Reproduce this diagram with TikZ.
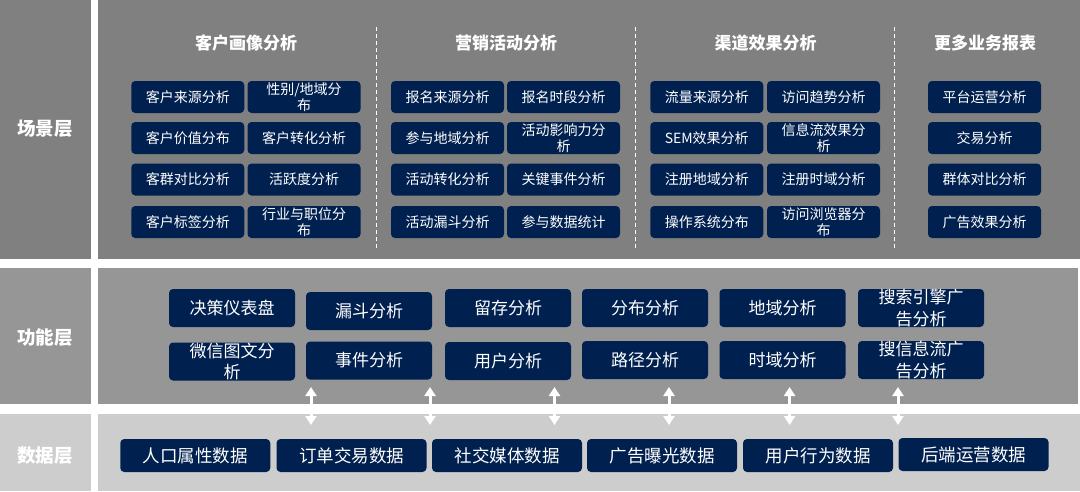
\documentclass[tikz,border=0pt]{standalone}
\usepackage{fontspec}
\setmainfont{Noto Sans CJK SC}
\usetikzlibrary{arrows.meta}
\definecolor{navy}{RGB}{0,33,80}
\definecolor{scenebg}{HTML}{808080}
\definecolor{funcbg}{HTML}{969696}
\definecolor{databg}{HTML}{CDCDCD}
\tikzset{
  box/.style={rounded corners=4pt, fill=navy, text=white, inner sep=0pt, align=center},
  sbox/.style={box, minimum width=113pt, minimum height=32pt, font=\fontsize{14}{16.5}\selectfont},
  fbox/.style={box, minimum width=126pt, minimum height=38pt, font=\fontsize{17}{21.5}\selectfont},
  dbox/.style={box, minimum width=150pt, minimum height=33pt, font=\fontsize{17.5}{21}\selectfont},
  head/.style={text=white, inner sep=0pt, font=\bfseries\fontsize{17}{20}\selectfont},
  layerlabel/.style={text=white, inner sep=0pt, font=\bfseries\fontsize{18.5}{22}\selectfont},
  sep/.style={white, line width=1pt, dash pattern=on 4pt off 3pt},
  updown/.style={white, line width=3pt, {Triangle[width=11pt,length=9pt]}-{Triangle[width=11pt,length=9pt]}}
}
\begin{document}
\begin{tikzpicture}[x=1pt,y=-1pt]
\useasboundingbox (0,0) rectangle (1080,491);
\fill[white] (0,0) rectangle (1080,491);
% layer backgrounds
\fill[scenebg] (0,0) rectangle (90.5,258.5);
\fill[scenebg] (97.5,0) rectangle (1080,258.5);
\fill[funcbg] (0,268) rectangle (90.5,404);
\fill[funcbg] (97.5,268) rectangle (1078,404);
\fill[databg] (0,414) rectangle (90.5,491);
\fill[databg] (97.5,414) rectangle (1080,491);
% layer labels
\node[layerlabel] (lscene) at (45,129) {场景层};
\node[layerlabel] (lfunc) at (45,338) {功能层};
\node[layerlabel] (ldata) at (45,456) {数据层};
% separators
\draw[sep] (376.7,27) -- (376.7,248);
\draw[sep] (635.7,27) -- (635.7,248);
\draw[sep] (894,27) -- (894,248);
% headings
\node[head] (h1) at (246,43) {客户画像分析};
\node[head] (h2) at (506,43) {营销活动分析};
\node[head] (h3) at (765.5,43) {渠道效果分析};
\node[head] (h4) at (985,43) {更多业务报表};
% scene group 1
\node[sbox] (s11) at (187.75,97) {客户来源分析};
\node[sbox] (s12) at (304,97) {性别/地域分\\布};
\node[sbox] (s13) at (187.75,138) {客户价值分布};
\node[sbox] (s14) at (304,138) {客户转化分析};
\node[sbox] (s15) at (187.75,179.5) {客群对比分析};
\node[sbox] (s16) at (304,179.5) {活跃度分析};
\node[sbox] (s17) at (187.75,222) {客户标签分析};
\node[sbox] (s18) at (304,222) {行业与职位分\\布};
% scene group 2
\node[sbox] (s21) at (447.5,97) {报名来源分析};
\node[sbox] (s22) at (563.5,97) {报名时段分析};
\node[sbox] (s23) at (447.5,138) {参与地域分析};
\node[sbox] (s24) at (563.5,138) {活动影响力分\\析};
\node[sbox] (s25) at (447.5,179.5) {活动转化分析};
\node[sbox] (s26) at (563.5,179.5) {关键事件分析};
\node[sbox] (s27) at (447.5,222) {活动漏斗分析};
\node[sbox] (s28) at (563.5,222) {参与数据统计};
% scene group 3
\node[sbox] (s31) at (706.75,97) {流量来源分析};
\node[sbox] (s32) at (823.5,97) {访问趋势分析};
\node[sbox] (s33) at (706.75,138) {SEM效果分析};
\node[sbox] (s34) at (823.5,138) {信息流效果分\\析};
\node[sbox] (s35) at (706.75,179.5) {注册地域分析};
\node[sbox] (s36) at (823.5,179.5) {注册时域分析};
\node[sbox] (s37) at (706.75,222) {操作系统分布};
\node[sbox] (s38) at (823.5,222) {访问浏览器分\\布};
% scene group 4
\node[sbox] (s41) at (984.5,97) {平台运营分析};
\node[sbox] (s42) at (984.5,138) {交易分析};
\node[sbox] (s43) at (984.5,179.5) {群体对比分析};
\node[sbox] (s44) at (984.5,222) {广告效果分析};
% function layer
\node[fbox] (f11) at (232,308) {决策仪表盘};
\node[fbox] (f12) at (369,311) {漏斗分析};
\node[fbox] (f13) at (508,308) {留存分析};
\node[fbox] (f14) at (645,308) {分布分析};
\node[fbox] (f15) at (782.5,308) {地域分析};
\node[fbox] (f16) at (921,308) {搜索引擎广\\告分析};
\node[fbox] (f21) at (232,361.5) {微信图文分\\析};
\node[fbox] (f22) at (369,360.5) {事件分析};
\node[fbox] (f23) at (508,361) {用户分析};
\node[fbox] (f24) at (645,360) {路径分析};
\node[fbox] (f25) at (782.5,360) {时域分析};
\node[fbox] (f26) at (921,360) {搜信息流广\\告分析};
% data layer
\node[dbox] (d1) at (195.25,455.5) {人口属性数据};
\node[dbox] (d2) at (351.5,455.5) {订单交易数据};
\node[dbox] (d3) at (507,455.5) {社交媒体数据};
\node[dbox] (d4) at (662,455.5) {广告曝光数据};
\node[dbox] (d5) at (818,455.5) {用户行为数据};
\node[dbox] (d6) at (973.5,454.5) {后端运营数据};
% arrows between layers
\foreach \i/\x in {1/311,2/430,3/554.5,4/669,5/789.6,6/898}{
  \coordinate (at\i) at (\x,387);
  \coordinate (ab\i) at (\x,425);
  \draw[updown] (at\i) -- (ab\i);
}
\end{tikzpicture}
\end{document}
